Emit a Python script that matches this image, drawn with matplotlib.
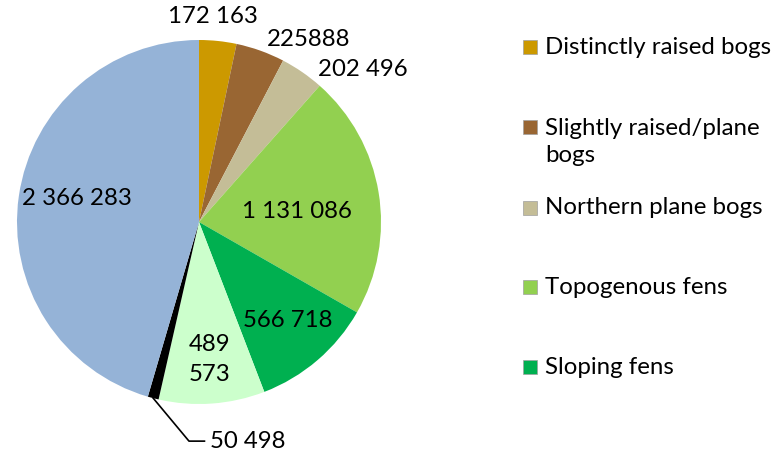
import matplotlib
matplotlib.use("Agg")
import matplotlib.pyplot as plt
from matplotlib.patches import Rectangle
import numpy as np

plt.rcParams['font.family'] = ['Lato', 'DejaVu Sans']

categories = ["Distinctly raised bogs", "Slightly raised/plane\nbogs", "Northern plane bogs",
              "Topogenous fens", "Sloping fens", "Spring fens", "Other mires", "Undetermined"]
values = [172163, 225888, 202496, 1131086, 566718, 489573, 50498, 2366283]
value_labels = ["172 163", "225888", "202 496", "1 131 086", "566 718", "489\n573", "50 498", "2 366 283"]
colors = ["#CC9900", "#996633", "#C4BD97", "#92D050", "#00B050", "#CCFFCC", "#000000", "#95B3D7"]
legend_count = 5

W, H = 778, 453
fig = plt.figure(figsize=(W/100, H/100), dpi=100)
cx, cy, r = 199, 222, 182
ax = fig.add_axes([(cx-r)/W, (H-cy-r)/H, 2*r/W, 2*r/H])
wedges, _ = ax.pie(values, colors=colors, startangle=90, counterclock=False, radius=1,
                   wedgeprops=dict(linewidth=0))
ax.set_xlim(-1, 1); ax.set_ylim(-1, 1)
ax.set_aspect('equal')
ax.axis('off')

fs = 17.3
label_pos = [(0.077, 1.127), (0.60, 1.0), (0.90, 0.84), (0.54, 0.055),
             (0.49, -0.54), (0.06, -0.755), None, (-0.67, 0.13)]
for i, (lab, pos) in enumerate(zip(value_labels, label_pos)):
    if pos is None:
        continue
    ax.text(pos[0], pos[1], lab, ha='center', va='center', fontsize=fs,
            color='black', clip_on=False, linespacing=1.5)

# small slice with leader line
w = wedges[6]
th = np.deg2rad((w.theta1 + w.theta2) / 2)
x0, y0 = np.cos(th), np.sin(th)
ax.plot([x0, -0.055, 0.03], [y0, -1.204, -1.204], color='black', lw=1.2, clip_on=False)
ax.text(0.06, -1.204, value_labels[6], ha='left', va='center', fontsize=fs, clip_on=False)

# legend
ys = [47, 127, 208, 287, 367]
for i in range(legend_count):
    y = ys[i]
    fig.patches.append(Rectangle((523/W, (H-y-7)/H), 14/W, 14/H, transform=fig.transFigure,
                                 facecolor=colors[i], edgecolor='#A0A0A0', lw=0.5))
    if '\n' in categories[i]:
        fig.text(545/W, (H-y-15)/H, categories[i], ha='left', va='center', fontsize=fs,
                 linespacing=1.32)
    else:
        fig.text(545/W, (H-y)/H, categories[i], ha='left', va='center', fontsize=fs)

fig.savefig("out.png", dpi=100)
